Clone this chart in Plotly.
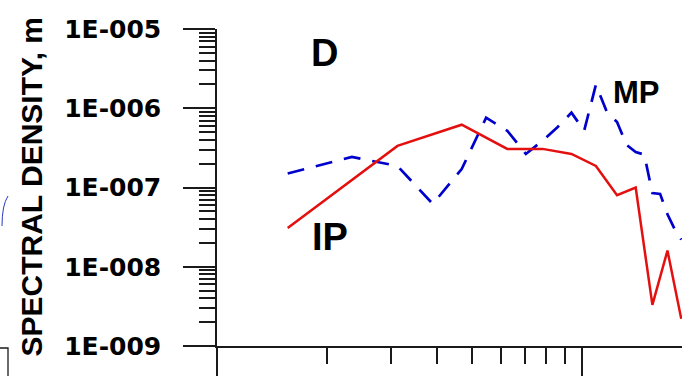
import plotly.graph_objects as go

# Frequency samples (Hz) and spectral densities (m)
freq_ip = [1.5625, 3.125, 4.6875, 6.25, 7.8125, 9.375, 10.9375, 12.5,
           14.0625, 15.625, 17.1875, 18.75]
ip = [3.08e-8, 3.35e-7, 6.2e-7, 3.07e-7, 3.07e-7, 2.65e-7, 1.87e-7, 8.0e-8,
      1.0e-7, 3.3e-9, 1.6e-8, 2.2e-9]

freq_mp = [1.5625, 2.34375, 3.125, 3.90625, 4.6875, 5.46875, 6.25, 7.03125,
           7.8125, 8.59375, 9.375, 10.15625, 10.9375, 11.71875, 12.5,
           13.28125, 14.0625, 14.84375, 15.625, 16.40625, 17.1875, 17.96875,
           18.75]
mp = [1.50e-7, 2.43e-7, 1.87e-7, 6.2e-8, 1.71e-7, 7.6e-7, 5.2e-7, 2.65e-7,
      3.9e-7, 5.8e-7, 8.8e-7, 5.2e-7, 1.98e-6, 9.0e-7, 6.7e-7, 3.45e-7,
      2.8e-7, 2.6e-7, 8.5e-8, 8.3e-8, 4.6e-8, 3.0e-8, 2.2e-8]

y_tickvals = [1e-9, 1e-8, 1e-7, 1e-6, 1e-5]
y_ticktext = ["1E-009", "1E-008", "1E-007", "1E-006", "1E-005"]

W, H = 682, 376
L, R, T, B = 217, 0, 29, 30
PW, PH = W - L - R, H - T - B


def px(x, y):
    """Pixel position -> paper coordinates of the plot area."""
    return (x - L) / PW, (H - B - y) / PH


AX = "#1a1a1a"

fig = go.Figure()
fig.add_trace(go.Scatter(x=freq_mp, y=mp, mode="lines", name="MP",
                         line=dict(color="rgb(0,0,205)", width=2.7,
                                   dash="17px,12px")))
fig.add_trace(go.Scatter(x=freq_ip, y=ip, mode="lines", name="IP",
                         line=dict(color="rgb(228,16,16)", width=2.5)))

fig.update_xaxes(
    type="log", range=[0, 465 / 364.7], showgrid=False, zeroline=False,
    showline=True, linecolor=AX, linewidth=1.5,
    ticks="outside", ticklen=30, tickwidth=1.5, tickcolor=AX,
    tick0=0, dtick=1, showticklabels=False,
    minor=dict(ticks="outside", ticklen=16, tickwidth=1.5, tickcolor=AX,
               dtick="D1"),
)
fig.update_yaxes(
    type="log", range=[-9, -5], showgrid=False, zeroline=False,
    showline=True, linecolor=AX, linewidth=1.5,
    ticks="outside", ticklen=32, tickwidth=1.5, tickcolor=AX,
    tickmode="array", tickvals=y_tickvals, ticktext=y_ticktext,
    ticklabelstandoff=17,
    tickfont=dict(family="DejaVu Sans", size=25, color="black", weight="bold"),
    minor=dict(ticks="outside", ticklen=16, tickwidth=1.5, tickcolor=AX,
               dtick="D1"),
)

annotations = []
bold = dict(family="Liberation Sans, Arial", color="black", weight="bold")
for text, (cx, cy), size in [("D", (324, 53), 38),
                             ("MP", (636.5, 92.5), 31),
                             ("IP", (330, 237), 38)]:
    xp, yp = px(cx, cy)
    annotations.append(dict(text=text, x=xp, y=yp, xref="paper", yref="paper",
                            showarrow=False, xanchor="center",
                            yanchor="middle", font=dict(size=size, **bold)))
xt, yt = px(30.5, 187)
annotations.append(dict(text="SPECTRAL DENSITY, m", x=xt, y=yt,
                        xref="paper", yref="paper", showarrow=False,
                        textangle=-90, xanchor="center", yanchor="middle",
                        font=dict(size=30, **bold)))

# Edge of the neighbouring panel and a pen mark at the left border
c0, c1, c2 = px(0, 348), px(8, 348), px(8, 376)
p0, p1, p2 = px(8, 196), px(2, 205), px(2, 226)
shapes = [
    dict(type="path", xref="paper", yref="paper",
         path=f"M {c0[0]},{c0[1]} L {c1[0]},{c1[1]} L {c2[0]},{c2[1]}",
         line=dict(color=AX, width=1.3)),
    dict(type="path", xref="paper", yref="paper",
         path=f"M {p0[0]},{p0[1]} Q {p1[0]},{p1[1]} {p2[0]},{p2[1]}",
         line=dict(color="rgb(40,60,190)", width=1)),
]

fig.update_layout(
    width=W, height=H, margin=dict(l=L, r=R, t=T, b=B, pad=0),
    paper_bgcolor="white", plot_bgcolor="white", showlegend=False,
    annotations=annotations, shapes=shapes,
)

fig.write_html("out.html")
